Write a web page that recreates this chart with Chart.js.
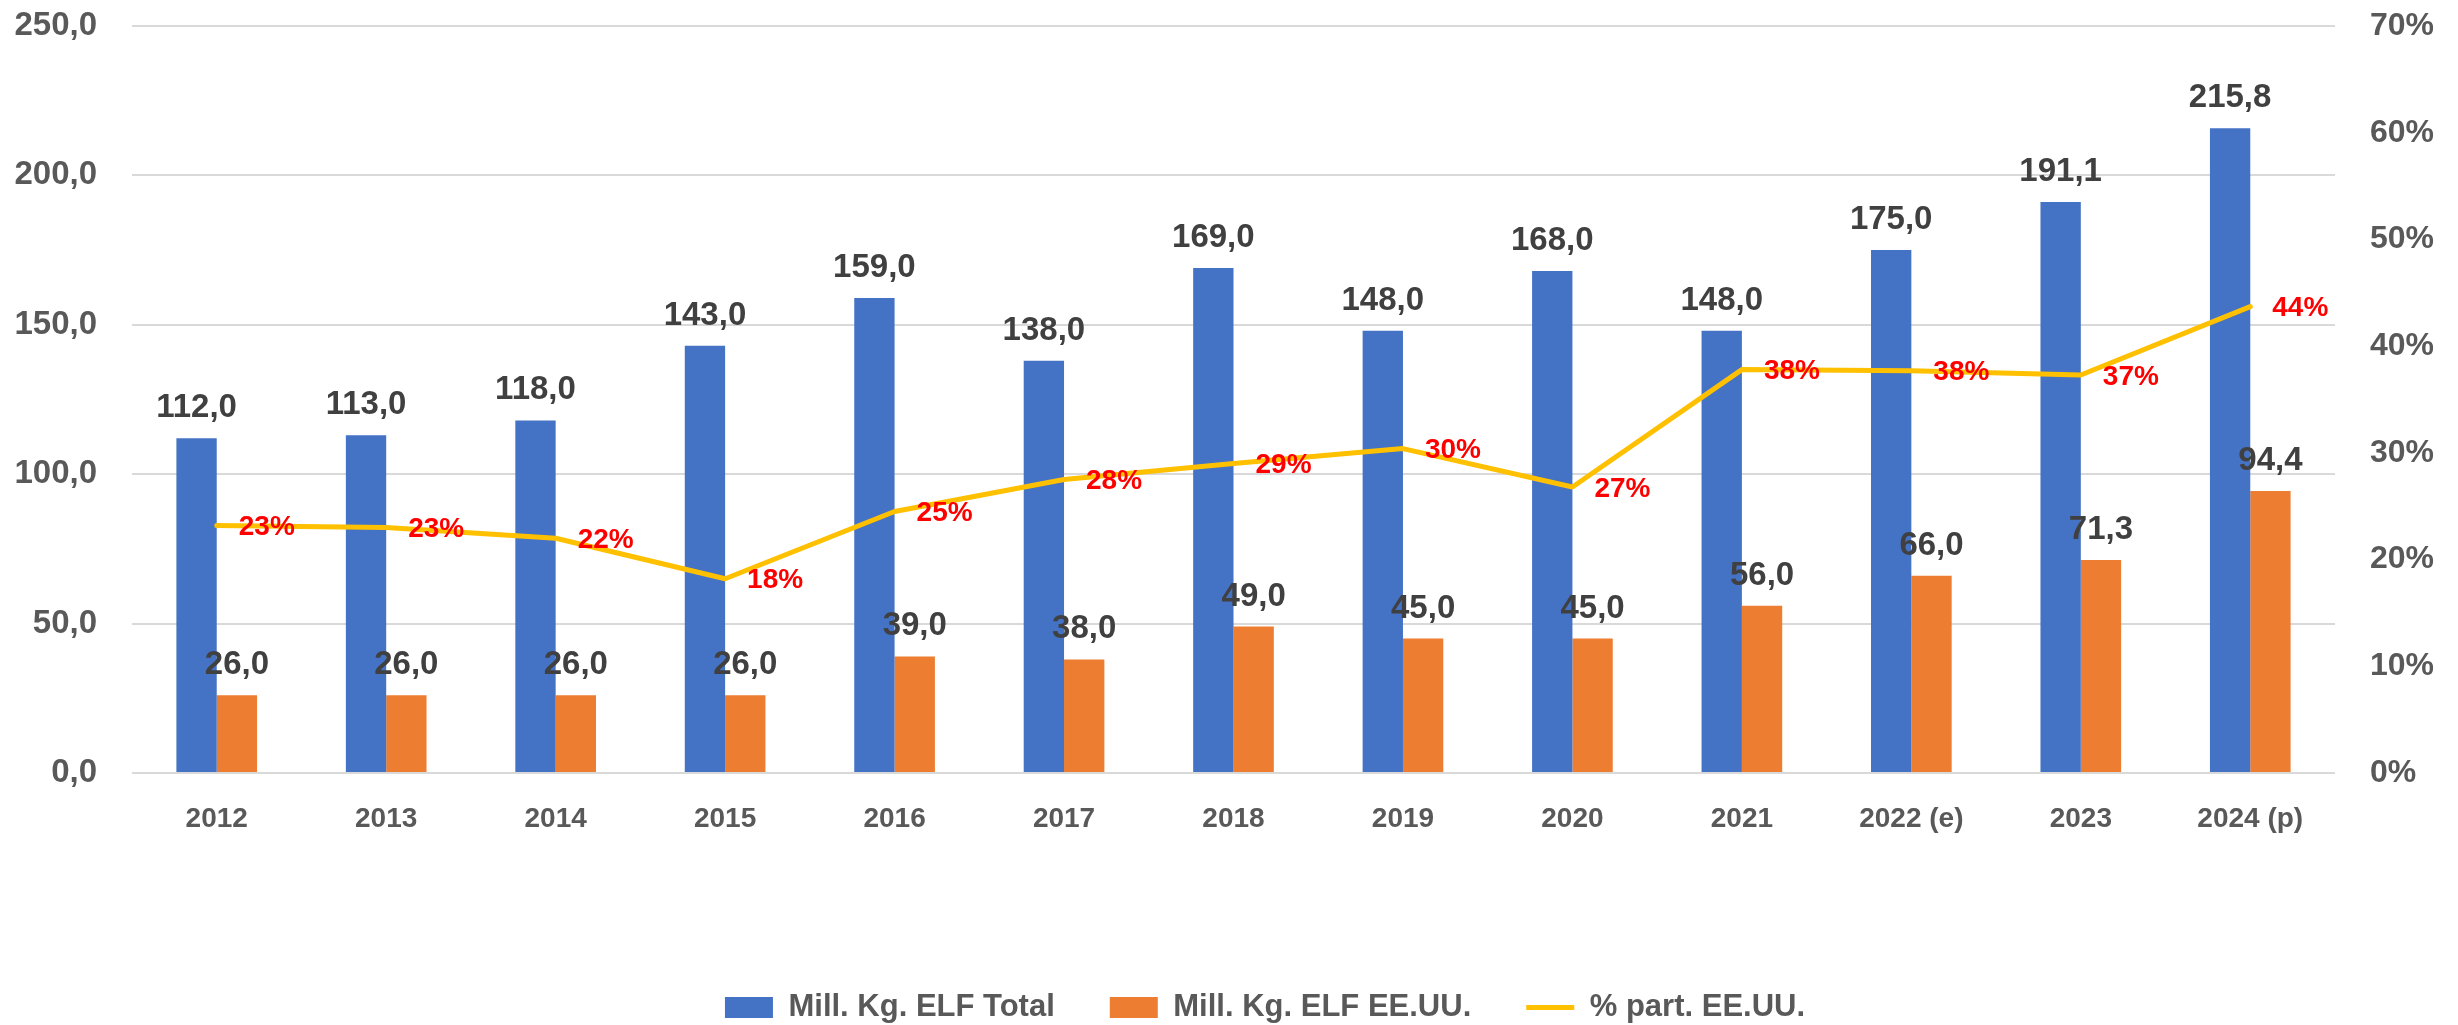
<!DOCTYPE html>
<html>
<head>
<meta charset="utf-8">
<script src="https://cdn.jsdelivr.net/npm/chart.js@4.4.1/dist/chart.umd.min.js"></script>
<style>
  html, body { margin: 0; padding: 0; background: #fff; }
  #wrap { width: 2458px; height: 1025px; }
</style>
</head>
<body>
<div id="wrap"><canvas id="chart" width="2458" height="1025"></canvas></div>
<script>
const years = ['2012', '2013', '2014', '2015', '2016', '2017', '2018', '2019', '2020', '2021', '2022 (e)', '2023', '2024 (p)'];
const totalKg = [112.0, 113.0, 118.0, 143.0, 159.0, 138.0, 169.0, 148.0, 168.0, 148.0, 175.0, 191.1, 215.8];
const usaKg = [26.0, 26.0, 26.0, 26.0, 39.0, 38.0, 49.0, 45.0, 45.0, 56.0, 66.0, 71.3, 94.4];
const usaShare = [0.232, 0.230, 0.220, 0.182, 0.245, 0.275, 0.290, 0.304, 0.268, 0.378, 0.377, 0.373, 0.437];
const seriesNames = ['Mill. Kg. ELF Total', 'Mill. Kg. ELF EE.UU.', '% part. EE.UU.'];

const FONT = "'Liberation Sans', Arial, sans-serif";
const fmtKg = (v) => Number(v).toFixed(1).replace('.', ',');
const fmtPct = (v) => `${Math.round(v * 100)}%`;

// value labels: Excel-style, above bars and to the right of line points
const valueLabels = {
  id: 'valueLabels',
  afterDatasetsDraw(chart) {
    const ctx = chart.ctx;
    ctx.save();
    [0, 1].forEach(di => {
      const meta = chart.getDatasetMeta(di);
      ctx.font = `bold 33px ${FONT}`;
      ctx.fillStyle = '#404040';
      ctx.textAlign = 'center';
      ctx.textBaseline = 'alphabetic';
      meta.data.forEach((bar, i) => {
        ctx.fillText(fmtKg(chart.data.datasets[di].data[i]), bar.x, bar.y - 21);
      });
    });
    const line = chart.getDatasetMeta(2);
    ctx.font = `bold 28px ${FONT}`;
    ctx.fillStyle = '#FF0000';
    ctx.textAlign = 'left';
    ctx.textBaseline = 'middle';
    line.data.forEach((pt, i) => {
      ctx.fillText(fmtPct(usaShare[i]), pt.x + 22, pt.y + 2);
    });
    ctx.restore();
  }
};

// nudge the legend row to where the original sits
const legendNudge = {
  id: 'legendNudge',
  afterLayout(chart) {
    const lg = chart.legend;
    if (!lg) return;
    lg.left += 36; lg.right += 36;
    lg.top += 8; lg.bottom += 8;
  }
};

new Chart(document.getElementById('chart'), {
  data: {
    labels: years,
    datasets: [
      { type: 'bar', label: seriesNames[0], data: totalKg, backgroundColor: '#4472C4', borderWidth: 0,
        pointStyle: 'rect', yAxisID: 'y', order: 1, categoryPercentage: 0.476, barPercentage: 1 },
      { type: 'bar', label: seriesNames[1], data: usaKg, backgroundColor: '#ED7D31', borderWidth: 0,
        pointStyle: 'rect', yAxisID: 'y', order: 1, categoryPercentage: 0.476, barPercentage: 1 },
      { type: 'line', label: seriesNames[2], data: usaShare, borderColor: '#FFC000', backgroundColor: '#FFC000',
        borderWidth: 5, pointRadius: 0, pointStyle: 'line', tension: 0, borderJoinStyle: 'round',
        borderCapStyle: 'round', yAxisID: 'y1', order: 0 }
    ]
  },
  options: {
    responsive: false,
    animation: false,
    devicePixelRatio: 1,
    layout: { padding: { top: 26, left: 0, right: 0, bottom: 0 } },
    plugins: {
      tooltip: { enabled: false },
      legend: {
        position: 'bottom',
        labels: {
          usePointStyle: true,
          pointStyleWidth: 48,
          boxHeight: 21,
          padding: 55,
          color: '#595959',
          font: { family: FONT, size: 31, weight: 'bold' },
          sort: (a, b) => a.datasetIndex - b.datasetIndex
        }
      }
    },
    scales: {
      x: {
        grid: { display: false },
        border: { display: false },
        ticks: { color: '#595959', font: { family: FONT, size: 28, weight: 'bold' }, padding: 21, maxRotation: 0 },
        afterFit: (s) => { s.height = 156; }
      },
      y: {
        position: 'left',
        min: 0, max: 250,
        grid: { color: '#D9D9D9', lineWidth: 2, drawTicks: false },
        border: { display: false },
        ticks: { stepSize: 50, padding: 35, color: '#595959', font: { family: FONT, size: 33, weight: 'bold' },
          callback: (v) => fmtKg(v) },
        afterFit: (s) => { s.width = 132; s.paddingTop = 0; s.paddingBottom = 0; }
      },
      y1: {
        position: 'right',
        min: 0, max: 0.7,
        grid: { display: false, drawTicks: false },
        border: { display: false },
        ticks: { stepSize: 0.1, padding: 35, color: '#595959', font: { family: FONT, size: 32, weight: 'bold' },
          callback: (v) => fmtPct(v) },
        afterFit: (s) => { s.width = 123; s.paddingTop = 0; s.paddingBottom = 0; }
      }
    }
  },
  plugins: [valueLabels, legendNudge]
});
</script>
</body>
</html>
